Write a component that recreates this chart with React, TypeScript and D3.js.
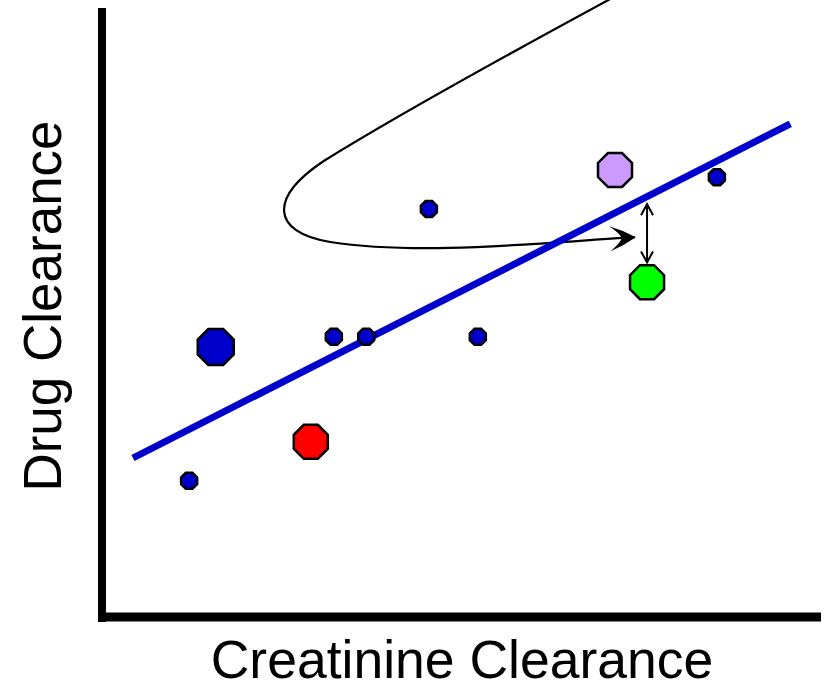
import React from "react";
import * as d3 from "d3";

// Data (arbitrary units, 0-100 on both axes)
const smallX = [12.1, 32.2, 36.7, 45.4, 52.2, 85.4];
const smallY = [22.7, 46.7, 46.7, 68.0, 46.7, 73.3];
const specialNames = ["bigBlue", "red", "purple", "green"];
const specialX = [15.8, 29.0, 71.25, 75.7];
const specialY = [45.0, 29.2, 74.5, 55.8];
const specialColors = ["#0000cc", "#ff0000", "#cc99ff", "#00ff00"];
const fitX = [4.3, 95.6];
const fitY = [26.5, 82.2];
// annotation curve (cubic bezier control points, data units)
const curveX = [70.9, 57.5, 39.5, 30.8, 23.3, 23.3, 31.7, 44.2, 60.0, 74.0];
const curveY = [103.2, 94.5, 82.5, 76.0, 70.0, 64.2, 62.5, 60.2, 62.3, 63.3];
// residual double arrow
const residX = 75.7;
const residY = [68.8, 59.1];

const W = 831;
const H = 683;

function octagon(cx: number, cy: number, apothem: number) {
  const R = apothem / Math.cos(Math.PI / 8);
  const pts: string[] = [];
  for (let i = 0; i < 8; i++) {
    const a = Math.PI / 8 + (i * Math.PI) / 4;
    pts.push(`${cx + R * Math.cos(a)},${cy + R * Math.sin(a)}`);
  }
  return pts.join(" ");
}

export default function App() {
  const x = d3.scaleLinear().domain([0, 100]).range([102, 822]);
  const y = d3.scaleLinear().domain([0, 100]).range([617, 17]);

  const fitLine = d3
    .line<number>()
    .x((_, i) => x(fitX[i]))
    .y((_, i) => y(fitY[i]))(fitX.map((v) => v));

  const cp = curveX.map((cx, i) => [x(cx), y(curveY[i])]);
  const p = d3.path();
  p.moveTo(cp[0][0], cp[0][1]);
  p.bezierCurveTo(cp[1][0], cp[1][1], cp[2][0], cp[2][1], cp[3][0], cp[3][1]);
  p.bezierCurveTo(cp[4][0], cp[4][1], cp[5][0], cp[5][1], cp[6][0], cp[6][1]);
  p.bezierCurveTo(cp[7][0], cp[7][1], cp[8][0], cp[8][1], cp[9][0], cp[9][1]);

  const apothems = [18, 17, 17, 17];

  return (
    <svg width={W} height={H} style={{ position: "absolute", left: 0, top: 0 }}>
      <defs>
        <marker
          id="stealth"
          viewBox="0 0 28 28"
          refX="26"
          refY="14"
          markerWidth="28"
          markerHeight="28"
          markerUnits="userSpaceOnUse"
          orient="auto"
        >
          <path d="M27,14 Q14,6 1,1.5 Q11,9 13,14 Q11,19 1,26.5 Q14,22 27,14 Z" fill="#000" />
        </marker>
        <marker
          id="vhead"
          viewBox="0 0 14 14"
          refX="12"
          refY="7"
          markerWidth="14"
          markerHeight="14"
          markerUnits="userSpaceOnUse"
          orient="auto-start-reverse"
        >
          <path d="M1,1 L12,7 L1,13" fill="none" stroke="#000" strokeWidth="2" />
        </marker>
      </defs>
      <rect x={0} y={0} width={W} height={H} fill="#fff" />

      {/* axes */}
      <line x1={x(0)} y1={8} x2={x(0)} y2={y(0) + 5} stroke="#000" strokeWidth={8} />
      <line x1={x(0) - 4} y1={y(0)} x2={821} y2={y(0)} stroke="#000" strokeWidth={9} />

      {/* annotation curve */}
      <path d={p.toString()} fill="none" stroke="#000" strokeWidth={2.2} markerEnd="url(#stealth)" />

      {/* regression line */}
      <path d={fitLine ?? ""} fill="none" stroke="#0000cc" strokeWidth={7} />

      {/* residual double arrow */}
      <line
        x1={x(residX)}
        y1={y(residY[0])}
        x2={x(residX)}
        y2={y(residY[1])}
        stroke="#000"
        strokeWidth={2}
        markerStart="url(#vhead)"
        markerEnd="url(#vhead)"
      />

      {/* small points */}
      {smallX.map((vx, i) => (
        <polygon
          key={"s" + i}
          points={octagon(x(vx), y(smallY[i]), 8)}
          fill="#0000cc"
          stroke="#000"
          strokeWidth={2.5}
        />
      ))}

      {/* highlighted points */}
      {specialNames.map((n, i) => (
        <polygon
          key={n}
          points={octagon(x(specialX[i]), y(specialY[i]), apothems[i])}
          fill={specialColors[i]}
          stroke="#000"
          strokeWidth={2.5}
        />
      ))}

      {/* axis titles */}
      <text
        x={462}
        y={678}
        textAnchor="middle"
        fontFamily="'Liberation Sans', Arial, sans-serif"
        fontSize={53.5}
        fill="#000"
      >
        Creatinine Clearance
      </text>
      <text
        transform={`translate(61,306) rotate(-90)`}
        textAnchor="middle"
        fontFamily="'Liberation Sans', Arial, sans-serif"
        fontSize={53}
        fill="#000"
      >
        Drug Clearance
      </text>
    </svg>
  );
}
